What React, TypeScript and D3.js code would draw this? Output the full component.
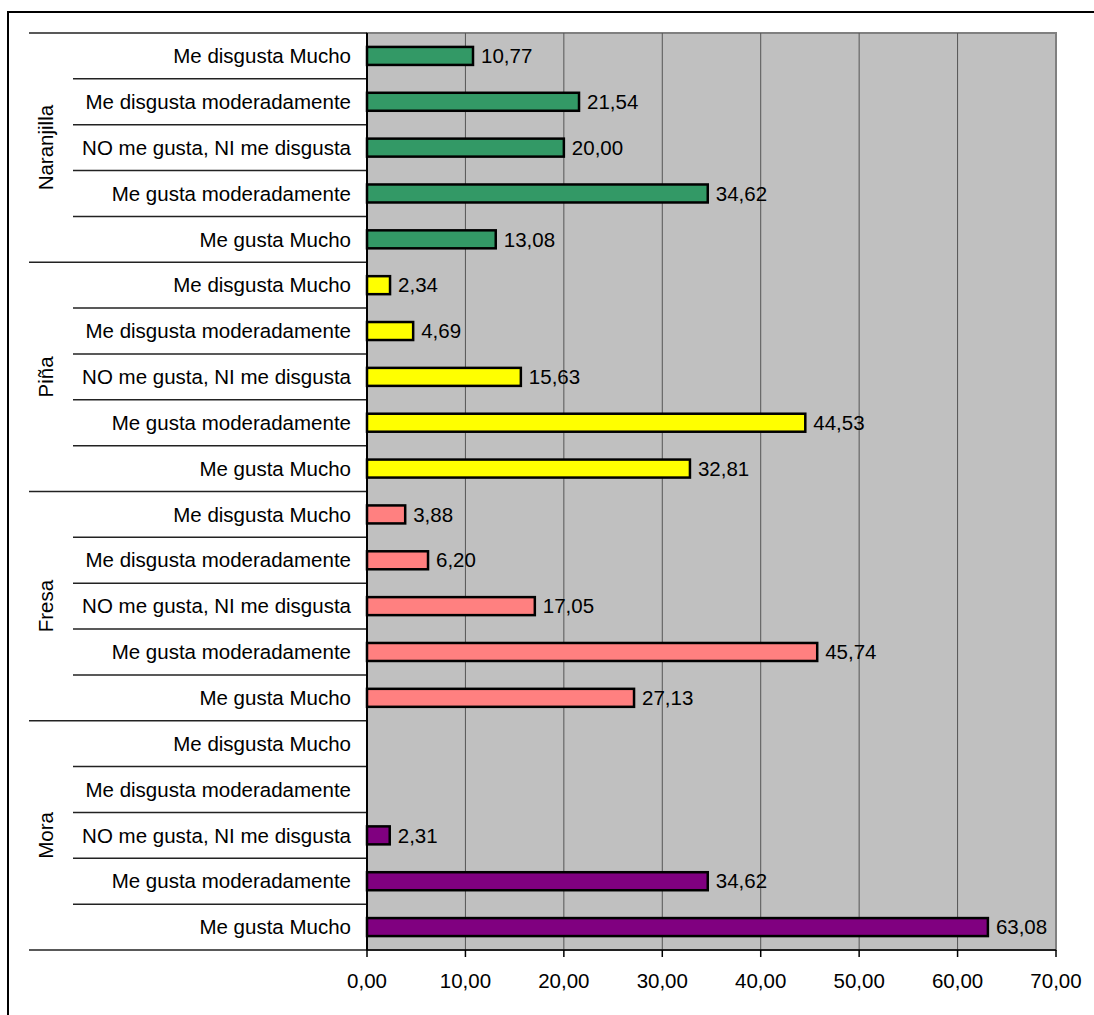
import React from "react";
import * as d3 from "d3";

const groups = ["Naranjilla", "Piña", "Fresa", "Mora"];
const categories = [
  "Me disgusta Mucho",
  "Me disgusta moderadamente",
  "NO me gusta, NI me disgusta",
  "Me gusta moderadamente",
  "Me gusta Mucho",
];
const naranjilla = [10.77, 21.54, 20.0, 34.62, 13.08];
const pina = [2.34, 4.69, 15.63, 44.53, 32.81];
const fresa = [3.88, 6.2, 17.05, 45.74, 27.13];
const mora: (number | null)[] = [null, null, 2.31, 34.62, 63.08];
const groupColors = ["#339966", "#FFFF00", "#FF8080", "#800080"];
const xTicks = [0, 10, 20, 30, 40, 50, 60, 70];

const seriesByGroup = [naranjilla, pina, fresa, mora];

export default function App() {
  const W = 1094, H = 1015;
  const left = 367, right = 1056, top = 33, bottom = 950;
  const font = "Arial, 'Liberation Sans', sans-serif";
  const fs = 20.5;

  const rows: { key: string; group: number; cat: string; value: number | null }[] = [];
  groups.forEach((g, gi) => {
    categories.forEach((c, ci) => {
      rows.push({ key: `${gi}-${ci}`, group: gi, cat: c, value: seriesByGroup[gi][ci] });
    });
  });

  const x = d3.scaleLinear().domain([0, 70]).range([left, right]);
  const y = d3.scaleBand<string>().domain(rows.map((r) => r.key)).range([top, bottom]).padding(0);
  const bw = y.bandwidth();
  const barH = 18;
  const fmt = (v: number) => v.toFixed(2).replace(".", ",");

  return (
    <svg width={W} height={H} style={{ position: "absolute", left: 0, top: 0 }} fontFamily={font}>
      <rect x={0} y={0} width={W} height={H} fill="#fff" />
      <rect x={8} y={12} width={W + 20} height={H + 20} fill="none" stroke="#000" strokeWidth={2} />
      {/* plot area */}
      <rect x={left} y={top} width={right - left} height={bottom - top} fill="#C0C0C0" stroke="#808080" strokeWidth={2} />
      {xTicks.slice(1, -1).map((t) => (
        <line key={t} x1={x(t)} x2={x(t)} y1={top} y2={bottom} stroke="#555" strokeWidth={1} />
      ))}
      {/* category separators */}
      {rows.map((r, i) => {
        const yy = y(r.key)!;
        const isGroupStart = i % 5 === 0;
        return (
          <line key={"s" + r.key} x1={isGroupStart ? 29 : 73} x2={left} y1={yy} y2={yy} stroke="#222" strokeWidth={1.5} />
        );
      })}
      <line x1={29} x2={left} y1={bottom} y2={bottom} stroke="#222" strokeWidth={1.5} />
      {/* bars */}
      {rows.map((r) =>
        r.value == null ? null : (
          <rect
            key={"b" + r.key}
            x={x(0)}
            y={y(r.key)! + bw / 2 - barH / 2}
            width={x(r.value) - x(0)}
            height={barH}
            fill={groupColors[r.group]}
            stroke="#000"
            strokeWidth={2.5}
          />
        )
      )}
      {/* value labels */}
      {rows.map((r) =>
        r.value == null ? null : (
          <text
            key={"v" + r.key}
            x={x(r.value) + 8}
            y={y(r.key)! + bw / 2}
            dy="0.35em"
            fontSize={fs}
            fill="#000"
          >
            {fmt(r.value)}
          </text>
        )
      )}
      {/* category labels */}
      {rows.map((r) => (
        <text key={"c" + r.key} x={351} y={y(r.key)! + bw / 2} dy="0.35em" textAnchor="end" fontSize={fs} fill="#000">
          {r.cat}
        </text>
      ))}
      {/* group labels */}
      {groups.map((g, gi) => {
        const y0 = y(`${gi}-0`)!;
        const yc = y0 + (bw * 5) / 2;
        return (
          <text key={g} transform={`translate(53,${yc}) rotate(-90)`} textAnchor="middle" fontSize={fs} fill="#000">
            {g}
          </text>
        );
      })}
      {/* axes lines */}
      <line x1={left} x2={left} y1={top} y2={bottom} stroke="#000" strokeWidth={2} />
      <line x1={left} x2={right} y1={bottom} y2={bottom} stroke="#000" strokeWidth={1.5} />
      {xTicks.map((t) => (
        <g key={"t" + t}>
          <line x1={x(t)} x2={x(t)} y1={bottom} y2={bottom + 7} stroke="#000" strokeWidth={1.5} />
          <text x={x(t)} y={988} textAnchor="middle" fontSize={fs} fill="#000">
            {fmt(t)}
          </text>
        </g>
      ))}
    </svg>
  );
}
